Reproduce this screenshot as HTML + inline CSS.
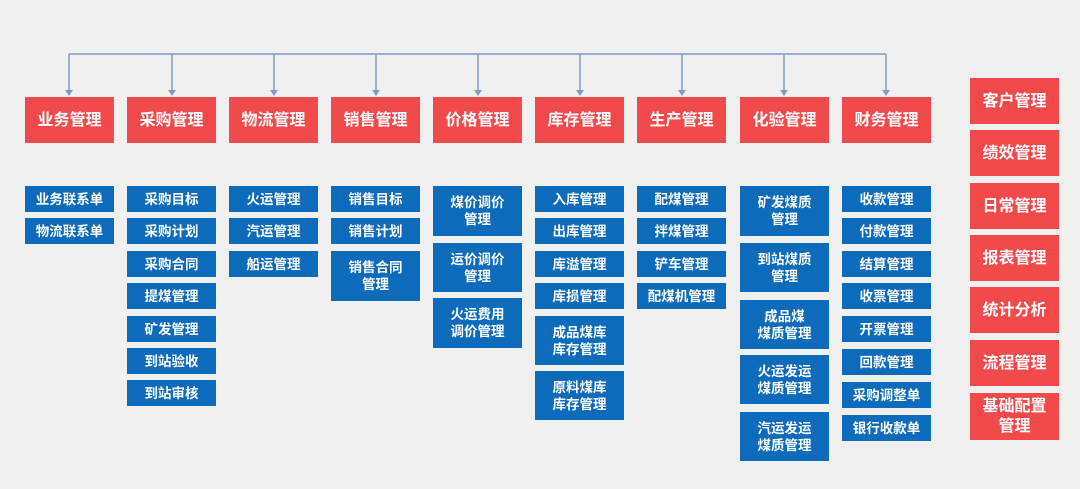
<!DOCTYPE html>
<html><head><meta charset="utf-8"><style>
body{margin:0;width:1080px;height:489px;background:#f0f0f1;position:relative;overflow:hidden;font-family:"Liberation Sans","Noto Sans CJK SC",sans-serif;font-weight:bold}
.r,.b{position:absolute;color:#fff;display:flex;align-items:center;justify-content:center;text-align:center;line-height:17px}
.r{background:#f2494b;font-size:16px;width:89px;height:46px}
.b{background:#0d6bbb;font-size:13.5px;width:89px}
</style></head><body>
<svg width="1080" height="489" style="position:absolute;left:0;top:0">
<line x1="69" y1="54" x2="886" y2="54" stroke="#7a9cc6" stroke-width="1.5"/>
<g stroke="#7a9cc6" stroke-width="1.5" fill="#7a9cc6">
<line x1="69" y1="54" x2="69" y2="92"/><line x1="172" y1="54" x2="172" y2="92"/><line x1="274" y1="54" x2="274" y2="92"/><line x1="376" y1="54" x2="376" y2="92"/><line x1="478" y1="54" x2="478" y2="92"/><line x1="580" y1="54" x2="580" y2="92"/><line x1="682" y1="54" x2="682" y2="92"/><line x1="784" y1="54" x2="784" y2="92"/><line x1="886" y1="54" x2="886" y2="92"/>
</g>
<g fill="#7a9cc6">
<polygon points="65,90 73,90 69,96"/><polygon points="168,90 176,90 172,96"/><polygon points="270,90 278,90 274,96"/><polygon points="372,90 380,90 376,96"/><polygon points="474,90 482,90 478,96"/><polygon points="576,90 584,90 580,96"/><polygon points="678,90 686,90 682,96"/><polygon points="780,90 788,90 784,96"/><polygon points="882,90 890,90 886,96"/>
</g>
</svg>
<div class="r" style="left:25px;top:97px">业务管理</div>
<div class="r" style="left:127px;top:97px">采购管理</div>
<div class="r" style="left:229px;top:97px">物流管理</div>
<div class="r" style="left:331px;top:97px">销售管理</div>
<div class="r" style="left:433px;top:97px">价格管理</div>
<div class="r" style="left:535px;top:97px">库存管理</div>
<div class="r" style="left:637px;top:97px">生产管理</div>
<div class="r" style="left:740px;top:97px">化验管理</div>
<div class="r" style="left:842px;top:97px">财务管理</div>

<div class="r" style="left:970px;top:78px">客户管理</div>
<div class="r" style="left:970px;top:130px">绩效管理</div>
<div class="r" style="left:970px;top:183px">日常管理</div>
<div class="r" style="left:970px;top:235px">报表管理</div>
<div class="r" style="left:970px;top:287px">统计分析</div>
<div class="r" style="left:970px;top:340px">流程管理</div>
<div class="r" style="left:970px;top:393px;height:47px;line-height:20px">基础配置<br>管理</div>

<div class="b" style="left:25px;top:186px;height:26px">业务联系单</div>
<div class="b" style="left:25px;top:218px;height:26px">物流联系单</div>

<div class="b" style="left:127px;top:186px;height:26px">采购目标</div>
<div class="b" style="left:127px;top:218px;height:26px">采购计划</div>
<div class="b" style="left:127px;top:251px;height:26px">采购合同</div>
<div class="b" style="left:127px;top:283px;height:26px">提煤管理</div>
<div class="b" style="left:127px;top:316px;height:26px">矿发管理</div>
<div class="b" style="left:127px;top:348px;height:26px">到站验收</div>
<div class="b" style="left:127px;top:380px;height:26px">到站审核</div>

<div class="b" style="left:229px;top:186px;height:26px">火运管理</div>
<div class="b" style="left:229px;top:218px;height:26px">汽运管理</div>
<div class="b" style="left:229px;top:251px;height:26px">船运管理</div>

<div class="b" style="left:331px;top:186px;height:26px">销售目标</div>
<div class="b" style="left:331px;top:218px;height:26px">销售计划</div>
<div class="b" style="left:331px;top:251px;height:50px">销售合同<br>管理</div>

<div class="b" style="left:433px;top:186px;height:50px">煤价调价<br>管理</div>
<div class="b" style="left:433px;top:243px;height:49px">运价调价<br>管理</div>
<div class="b" style="left:433px;top:298px;height:50px">火运费用<br>调价管理</div>

<div class="b" style="left:535px;top:186px;height:26px">入库管理</div>
<div class="b" style="left:535px;top:218px;height:26px">出库管理</div>
<div class="b" style="left:535px;top:251px;height:26px">库溢管理</div>
<div class="b" style="left:535px;top:283px;height:26px">库损管理</div>
<div class="b" style="left:535px;top:316px;height:49px">成品煤库<br>库存管理</div>
<div class="b" style="left:535px;top:371px;height:49px">原料煤库<br>库存管理</div>

<div class="b" style="left:637px;top:186px;height:26px">配煤管理</div>
<div class="b" style="left:637px;top:218px;height:26px">拌煤管理</div>
<div class="b" style="left:637px;top:251px;height:26px">铲车管理</div>
<div class="b" style="left:637px;top:283px;height:26px">配煤机管理</div>

<div class="b" style="left:740px;top:186px;height:50px">矿发煤质<br>管理</div>
<div class="b" style="left:740px;top:243px;height:49px">到站煤质<br>管理</div>
<div class="b" style="left:740px;top:300px;height:49px">成品煤<br>煤质管理</div>
<div class="b" style="left:740px;top:355px;height:49px">火运发运<br>煤质管理</div>
<div class="b" style="left:740px;top:412px;height:49px">汽运发运<br>煤质管理</div>

<div class="b" style="left:842px;top:186px;height:26px">收款管理</div>
<div class="b" style="left:842px;top:218px;height:26px">付款管理</div>
<div class="b" style="left:842px;top:251px;height:26px">结算管理</div>
<div class="b" style="left:842px;top:283px;height:26px">收票管理</div>
<div class="b" style="left:842px;top:316px;height:26px">开票管理</div>
<div class="b" style="left:842px;top:349px;height:26px">回款管理</div>
<div class="b" style="left:842px;top:382px;height:26px">采购调整单</div>
<div class="b" style="left:842px;top:415px;height:26px">银行收款单</div>
</body></html>
